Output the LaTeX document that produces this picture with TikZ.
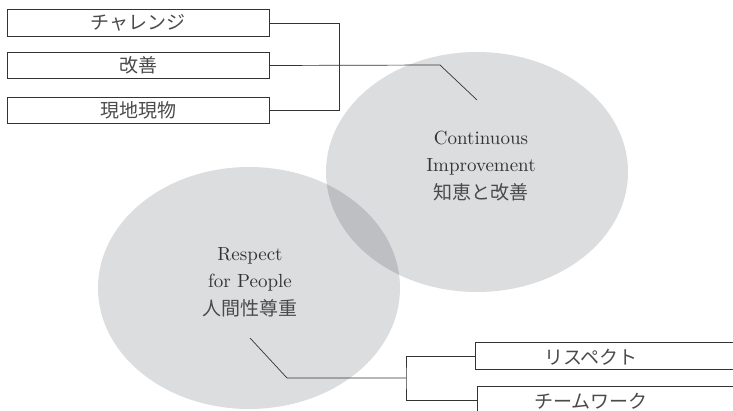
\documentclass[tikz,border=0pt]{standalone}
\usepackage{fontspec}
\newfontfamily\cjk{Noto Sans CJK JP}
\newfontfamily\lmten{lmroman10-regular.otf}
\definecolor{ellfill}{HTML}{DCDDDF}
\definecolor{ovlfill}{HTML}{BEBFC2}
\definecolor{ink}{HTML}{333333}
\definecolor{inksoft}{HTML}{4A4A4A}
\begin{document}
\begin{tikzpicture}[x=1pt,y=-1pt,
  tbox/.style={draw=ink,line width=0.8pt,minimum width=262pt,minimum height=26.5pt,inner sep=0pt,
    font=\cjk\fontsize{19}{22}\selectfont,text=inksoft},
  lbl/.style={font=\cjk\fontsize{19}{22}\selectfont,text=inksoft,inner sep=0pt},
  conn/.style={draw=ink,line width=0.7pt},
  etext/.style={align=center,text=ink,inner sep=0pt,font=\lmten\fontsize{19}{27.5}\selectfont}]
\useasboundingbox (0,0) rectangle (733,411);
\begin{scope}
\clip (0,0) rectangle (733,411);
% ellipses
\fill[ellfill] (477,172) ellipse [x radius=151pt, y radius=120pt];
\fill[ellfill] (249,288) ellipse [x radius=151pt, y radius=121pt];
\begin{scope}
\clip (477,172) ellipse [x radius=151pt, y radius=120pt];
\fill[ovlfill] (249,288) ellipse [x radius=151pt, y radius=121pt];
\end{scope}
\node[etext] (ci) at (481,166) {Continuous\\Improvement\\{\cjk\fontsize{19}{27.5}\selectfont\color{inksoft}知恵と改善}};
\node[etext] (rp) at (250,282) {Respect\\for People\\{\cjk\fontsize{19}{27.5}\selectfont\color{inksoft}人間性尊重}};
% top boxes
\node[tbox] (b1) at (138,23) {チャレンジ};
\node[tbox] (b2) at (138,65.5) {改善};
\node[tbox] (b3) at (138,110.5) {現地現物};
\coordinate (j1) at (339,23);
\coordinate (k1) at (440,65);
\coordinate (e1) at (477,100);
\draw[conn] (b1.east) -- (j1) |- (b3.east);
\draw[conn] (b2.east) -- (k1) -- (e1);
% bottom boxes
\node[tbox,minimum width=270pt,anchor=west] (b4) at (475,356) {};
\node[tbox,minimum width=270pt,anchor=west] (b5) at (477,400) {};
\node[lbl] (t4) at (591,357) {リスペクト};
\node[lbl] (t5) at (591,401) {チームワーク};
\coordinate (s2) at (250,338);
\coordinate (k2) at (287,378);
\coordinate (j2) at (406,378);
\draw[conn] (s2) -- (k2) -- (j2);
\draw[conn] (b4.west) -| (j2) |- (b5.west);
\end{scope}
\end{tikzpicture}
\end{document}
